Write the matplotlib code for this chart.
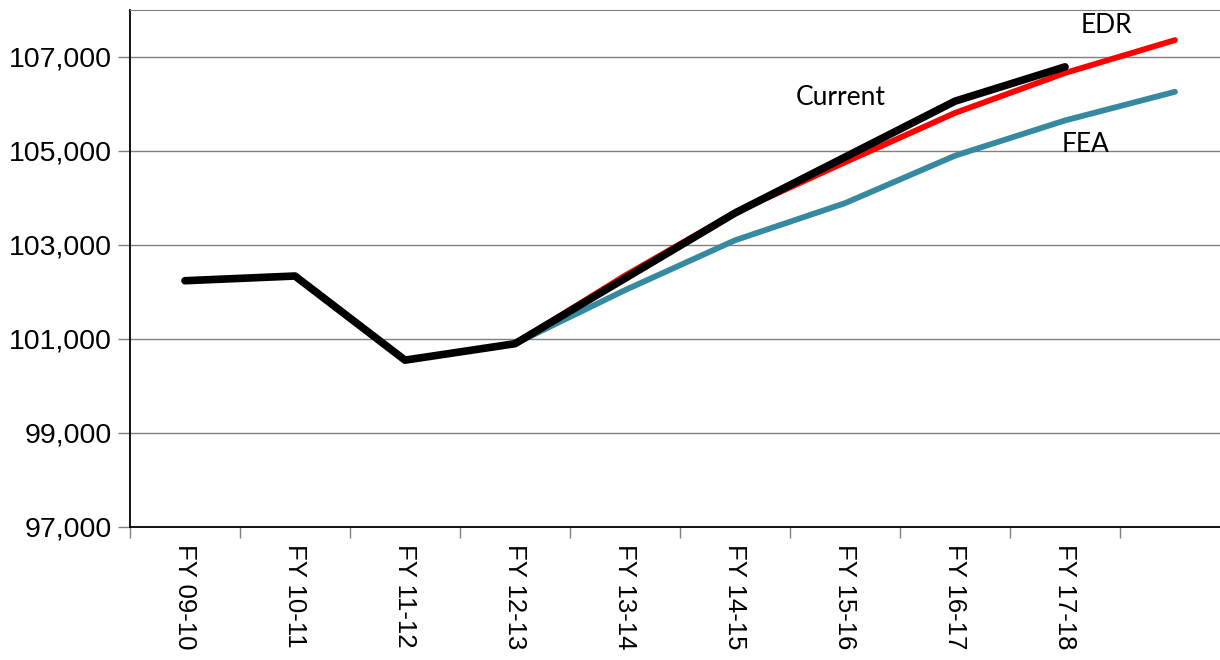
import matplotlib.pyplot as plt

# Data
years = ['FY 09-10', 'FY 10-11', 'FY 11-12', 'FY 12-13', 'FY 13-14',
         'FY 14-15', 'FY 15-16', 'FY 16-17', 'FY 17-18', '']
current = [102240, 102340, 100550, 100900, 102290, 103680, 104870, 106060, 106790]
edr = [100900, 102350, 103690, 104760, 105810, 106660, 107360]
fea = [100900, 102040, 103100, 103890, 104900, 105650, 106260]
edr_start = 3
fea_start = 3

fig = plt.figure(figsize=(12.2, 6.6), dpi=100)
# the plot area runs a little past the right edge of the image
ax = fig.add_axes([130 / 1220, 1 - 527 / 660, 1100 / 1220, 517 / 660])

x_cur = list(range(len(current)))
x_edr = list(range(edr_start, edr_start + len(edr)))
x_fea = list(range(fea_start, fea_start + len(fea)))

ax.plot(x_fea, fea, color='#3589A0', lw=4.2, solid_capstyle='round', zorder=3)
ax.plot(x_edr, edr, color='#FF0000', lw=4.2, solid_capstyle='round', zorder=4)
ax.plot(x_cur, current, color='black', lw=5.5, solid_capstyle='round', zorder=5)

ax.set_xlim(-0.5, len(years) - 0.5)
ax.set_ylim(97000, 108000)

ax.set_yticks(range(97000, 108000, 2000))
ax.set_yticklabels([f'{v:,}' for v in range(97000, 108000, 2000)],
                   fontsize=20.5, family='Liberation Sans')
ax.grid(axis='y', color='#808080', lw=1.0)
ax.set_axisbelow(True)

# tick marks on category boundaries, labels at the centres
ax.set_xticks([i - 0.5 for i in range(len(years) + 1)])
ax.set_xticklabels([])
ax.set_xticks(range(len(years)), minor=True)
ax.set_xticklabels(years, minor=True, rotation=270, fontsize=18.5,
                   family='Liberation Sans', va='top', ha='center')
ax.tick_params(axis='x', which='major', length=8, width=1, color='#808080')
ax.tick_params(axis='x', which='minor', length=0, pad=12)
ax.tick_params(axis='y', length=9, width=1, color='#808080', pad=4)

ax.spines['right'].set_visible(False)
ax.spines['top'].set_color('#808080')
ax.spines['left'].set_color('black')
ax.spines['bottom'].set_color('black')
ax.spines['left'].set_linewidth(1.3)
ax.spines['bottom'].set_linewidth(1.3)

ax.text(5.55, 106130, 'Current', fontsize=19, family='Lato', va='center')
ax.text(8.14, 107680, 'EDR', fontsize=19, family='Lato', va='center')
ax.text(7.97, 105130, 'FEA', fontsize=19, family='Lato', va='center')

fig.savefig('out.png', dpi=100)
